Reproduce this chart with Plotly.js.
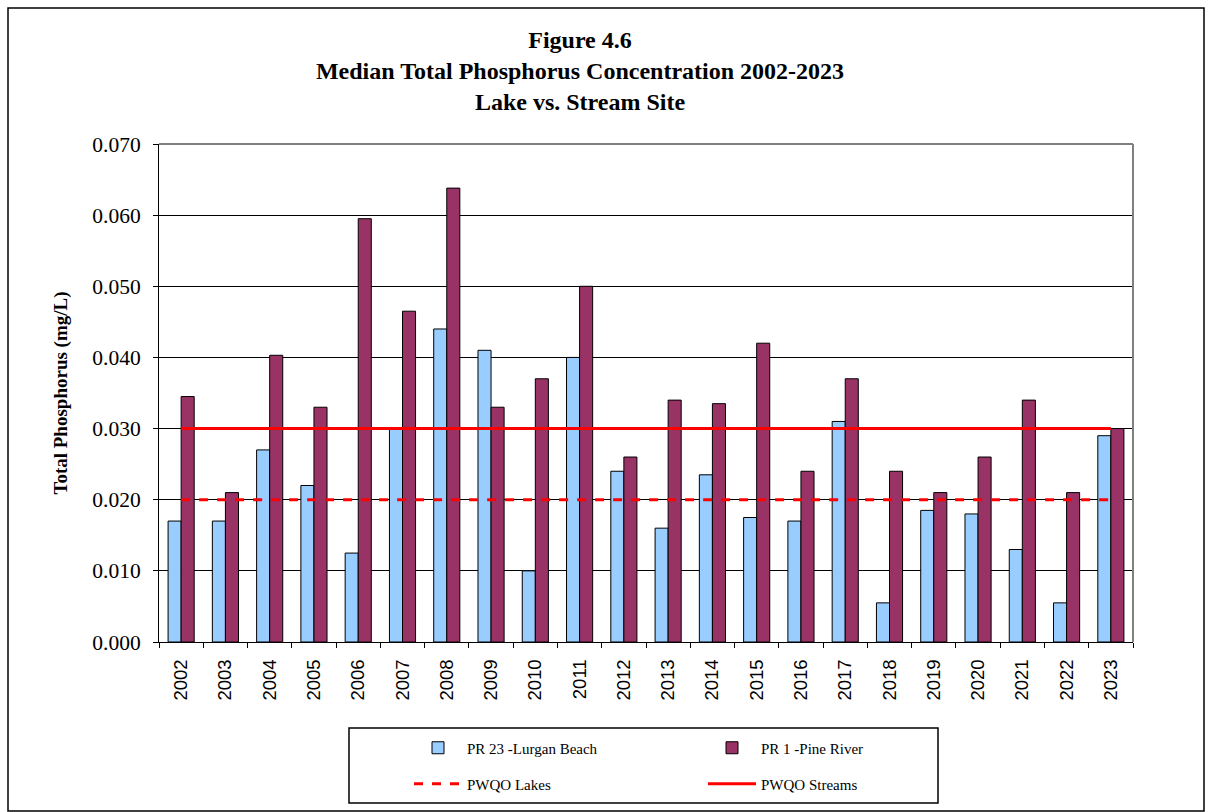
<!DOCTYPE html>
<html><head><meta charset="utf-8">
<script src="https://cdn.plot.ly/plotly-3.0.1.min.js"></script>
<style>html,body{margin:0;padding:0;background:#fff;}#chart{width:1205px;height:812px;}</style>
</head><body><div id="chart"></div>
<script>
const years = ["2002","2003","2004","2005","2006","2007","2008","2009","2010","2011","2012","2013","2014","2015","2016","2017","2018","2019","2020","2021","2022","2023"];
const lurganBeach = [0.017,0.017,0.027,0.022,0.0125,0.030,0.044,0.041,0.010,0.040,0.024,0.016,0.0235,0.0175,0.017,0.031,0.0055,0.0185,0.018,0.013,0.0055,0.029];
const pineRiver = [0.0345,0.021,0.0403,0.033,0.0595,0.0465,0.0638,0.033,0.037,0.050,0.026,0.034,0.0335,0.042,0.024,0.037,0.024,0.021,0.026,0.034,0.021,0.030];
const pwqoLakes = years.map(() => 0.020);
const pwqoStreams = years.map(() => 0.030);

const serif = "'Liberation Serif','Times New Roman',serif";
const sans = "'Liberation Sans',Arial,sans-serif";
const L = 159, R = 1133, T = 144, B = 642;
const W = R - L, H = B - T;
const px = x => (x - L) / W;
const py = y => (B - y) / H;

const traces = [
  {type:'bar', name:'PR 23 -Lurgan Beach', x:years, y:lurganBeach,
   marker:{color:'#99CCFF', line:{color:'#000', width:1}}, legend:'legend'},
  {type:'bar', name:'PR 1 -Pine River', x:years, y:pineRiver,
   marker:{color:'#993366', line:{color:'#000', width:1}}, legend:'legend'},
  {type:'scatter', mode:'lines', name:'PWQO Lakes', x:years, y:pwqoLakes,
   line:{color:'#FF0000', width:3, dash:'dash'}, legend:'legend2'},
  {type:'scatter', mode:'lines', name:'PWQO Streams', x:years, y:pwqoStreams,
   line:{color:'#FF0000', width:3}, legend:'legend2'}
];

const legendCommon = {orientation:'h', xanchor:'left', yanchor:'middle',
  font:{family:serif, size:15, color:'#000'}, bgcolor:'rgba(0,0,0,0)',
  entrywidth:231, itemwidth:48, traceorder:'normal'};

const layout = {
  width:1205, height:812,
  margin:{l:L, r:1205-R, t:T, b:812-B, pad:0},
  paper_bgcolor:'#fff', plot_bgcolor:'#fff',
  font:{family:serif, color:'#000'},
  bargap:0.41, bargroupgap:0,
  title:{text:'<b>Figure 4.6<br>Median Total Phosphorus Concentration 2002-2023<br>Lake vs. Stream Site</b>',
    font:{family:serif, size:24, color:'#000'}, x:px(580), xref:'paper', xanchor:'center',
    y:1-48/812, yref:'container', yanchor:'top'},
  xaxis:{type:'category', tickangle:-90, tickfont:{family:sans, size:18.5, color:'#000'},
    showline:true, linecolor:'#000', linewidth:1, ticks:'outside', tickson:'boundaries',
    ticklen:5, tickcolor:'#000', ticklabelstandoff:9, showgrid:false, zeroline:false, automargin:false},
  yaxis:{range:[0,0.070], dtick:0.010, tickformat:'.3f', tickfont:{family:serif, size:21.5, color:'#000'},
    showline:true, linecolor:'#000', linewidth:1, ticks:'outside', ticklen:5, tickcolor:'#000',
    ticklabelstandoff:8,
    showgrid:true, gridcolor:'#000', gridwidth:1, zeroline:false, automargin:false,
    title:{text:'<b>Total Phosphorus (mg/L)</b>', font:{family:serif, size:19, color:'#000'}, standoff:19}},
  legend:Object.assign({}, legendCommon, {x:px(409), y:py(748)}),
  legend2:Object.assign({}, legendCommon, {x:px(409), y:py(784)}),
  showlegend:true,
  shapes:[
    {type:'line', xref:'paper', yref:'paper', x0:0, x1:1, y0:1, y1:1, line:{color:'#808080', width:2}, layer:'above'},
    {type:'line', xref:'paper', yref:'paper', x0:1, x1:1, y0:0, y1:1, line:{color:'#808080', width:2}, layer:'above'},
    {type:'rect', xref:'paper', yref:'paper', x0:px(8), x1:px(1204), y0:py(8), y1:py(811), line:{color:'#000', width:1.5}, fillcolor:'rgba(0,0,0,0)'},
    {type:'rect', xref:'paper', yref:'paper', x0:px(349), x1:px(938), y0:py(728), y1:py(803), line:{color:'#000', width:1.5}, fillcolor:'rgba(0,0,0,0)'}
  ]
};

Plotly.newPlot('chart', traces, layout, {displayModeBar:false, staticPlot:true});
</script>
</body></html>
